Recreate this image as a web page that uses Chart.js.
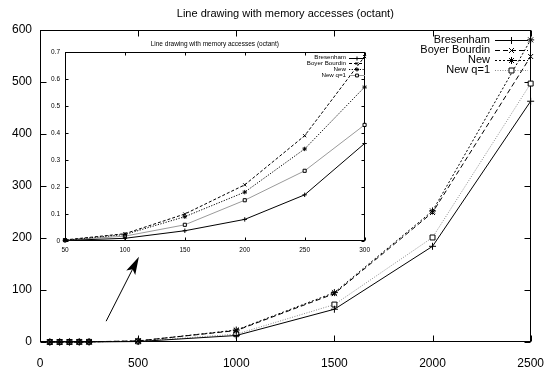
<!DOCTYPE html>
<html><head><meta charset="utf-8">
<script src="https://cdn.jsdelivr.net/npm/chart.js@4/dist/chart.umd.min.js"></script>
<style>
html,body{margin:0;padding:0;background:#fff;}
#wrap{position:relative;width:558px;height:382px;overflow:hidden;}
#main{position:absolute;left:0;top:0;}
#inset{position:absolute;left:40px;top:36px;}
</style></head><body>
<div id="wrap"><canvas id="main" width="558" height="382"></canvas><canvas id="inset" width="335" height="222"></canvas></div>
<script>
// ---------- data ----------
const titleText = 'Line drawing with memory accesses (octant)';
const seriesNames = ['Bresenham', 'Boyer Bourdin', 'New', 'New q=1'];

const mainX = [50, 100, 150, 200, 250, 500, 1000, 1500, 2000, 2500];
const mainBresenham = [0.002, 0.01, 0.038, 0.08, 0.171, 0.9, 12.5, 63, 184, 463];
const mainBoyer     = [0.004, 0.027, 0.1, 0.208, 0.39, 2.2, 22, 93, 249, 549];
const mainNew       = [0.003, 0.024, 0.09, 0.181, 0.341, 1.9, 23, 95, 252, 581];
const mainNewQ1     = [0.003, 0.018, 0.06, 0.151, 0.26, 1.3, 15, 72, 201, 497];

const insetX = [50, 100, 150, 200, 250, 300];
const insetBresenham = [0.002, 0.01, 0.038, 0.08, 0.171, 0.361];
const insetBoyer     = [0.004, 0.027, 0.1, 0.208, 0.39, 0.683];
const insetNew       = [0.003, 0.024, 0.09, 0.181, 0.341, 0.57];
const insetNewQ1     = [0.003, 0.018, 0.06, 0.151, 0.26, 0.43];

const mainXTicks = [0, 500, 1000, 1500, 2000, 2500];
const mainYTicks = [0, 100, 200, 300, 400, 500, 600];
const insetXTicks = [50, 100, 150, 200, 250, 300];
const insetYTicks = [0, 0.1, 0.2, 0.3, 0.4, 0.5, 0.6, 0.7];

// arrow annotation (data coordinates of main chart): tail, head
const arrowTail = [337, 40];
const arrowHead = [504, 164];

// ---------- styles ----------
const FONT = "'Liberation Sans', Arial, Helvetica, sans-serif";
Chart.defaults.font.family = FONT;
Chart.defaults.color = '#000';

const mainStyles = [
  {line: '#000', dash: [], point: 'cross'},
  {line: '#000', dash: [5, 3], point: 'crossRot'},
  {line: '#000', dash: [2, 2], point: 'star'},
  {line: '#8a8a8a', dash: [1, 1.5], point: 'rect'}
];
const insetStyles = [
  {line: '#000', dash: [], point: 'cross'},
  {line: '#000', dash: [3, 2], point: 'crossRot'},
  {line: '#000', dash: [1.2, 1.5], point: 'star'},
  {line: '#9a9a9a', dash: [], point: 'rect'}
];

function makeDatasets(xs, series, styles, radius) {
  return series.map((arr, i) => ({
    label: seriesNames[i],
    data: xs.map((x, j) => ({x: x, y: arr[j]})),
    borderColor: styles[i].line,
    borderDash: styles[i].dash,
    borderWidth: 1,
    pointStyle: styles[i].point,
    pointRadius: radius,
    pointHoverRadius: radius,
    pointBorderColor: '#000',
    pointBackgroundColor: '#fff',
    pointBorderWidth: 1,
    tension: 0,
    fill: false,
    clip: false
  }));
}

// frame with inward ticks on all four sides
function framePlugin(tickLen) {
  return {
    id: 'frame',
    beforeDatasetsDraw(chart) {
      const ctx = chart.ctx, a = chart.chartArea;
      const L = Math.round(a.left) + 0.5, R = Math.round(a.right) - 0.5;
      const T = Math.round(a.top) + 0.5, B = Math.round(a.bottom) - 0.5;
      ctx.save();
      ctx.strokeStyle = '#000';
      ctx.lineWidth = 1;
      ctx.setLineDash([]);
      ctx.strokeRect(L, T, R - L, B - T);
      ctx.beginPath();
      chart.scales.x.ticks.forEach(t => {
        const px = Math.round(chart.scales.x.getPixelForValue(t.value)) + 0.5;
        ctx.moveTo(px, B); ctx.lineTo(px, B - tickLen);
        ctx.moveTo(px, T); ctx.lineTo(px, T + tickLen);
      });
      chart.scales.y.ticks.forEach(t => {
        const py = Math.round(chart.scales.y.getPixelForValue(t.value)) + 0.5;
        ctx.moveTo(L, py); ctx.lineTo(L + tickLen, py);
        ctx.moveTo(R, py); ctx.lineTo(R - tickLen, py);
      });
      ctx.stroke();
      ctx.restore();
    }
  };
}

function titlePlugin(text, size, y) {
  return {
    id: 'ctitle',
    afterDraw(chart) {
      const ctx = chart.ctx, a = chart.chartArea;
      ctx.save();
      ctx.font = size + 'px ' + FONT;
      ctx.fillStyle = '#000';
      ctx.textAlign = 'center';
      ctx.textBaseline = 'middle';
      ctx.fillText(text, (a.left + a.right) / 2, y);
      ctx.restore();
    }
  };
}

function keyPlugin(cfg) {
  return {
    id: 'key',
    afterDatasetsDraw(chart) {
      const ctx = chart.ctx;
      ctx.save();
      chart.data.datasets.forEach((ds, i) => {
        const y = cfg.y0 + i * cfg.dy;
        ctx.font = cfg.size + 'px ' + FONT;
        ctx.fillStyle = '#000';
        ctx.textAlign = 'right';
        ctx.textBaseline = 'middle';
        ctx.fillText(ds.label, cfg.textRight, y);
        ctx.strokeStyle = ds.borderColor;
        ctx.lineWidth = 1;
        ctx.setLineDash(ds.borderDash);
        ctx.beginPath();
        ctx.moveTo(cfg.s0, Math.round(y) + 0.5);
        ctx.lineTo(cfg.s1, Math.round(y) + 0.5);
        ctx.stroke();
        ctx.setLineDash([]);
        ctx.strokeStyle = '#000';
        ctx.fillStyle = '#fff';
        Chart.helpers.drawPoint(ctx, {pointStyle: ds.pointStyle, radius: cfg.r, rotation: 0, borderWidth: 1},
          (cfg.s0 + cfg.s1) / 2, Math.round(y) + 0.5);
      });
      ctx.restore();
    }
  };
}

const arrowPlugin = {
  id: 'arrow',
  afterDraw(chart) {
    const xs = chart.scales.x, ys = chart.scales.y, ctx = chart.ctx;
    const x0 = xs.getPixelForValue(arrowTail[0]), y0 = ys.getPixelForValue(arrowTail[1]);
    const x1 = xs.getPixelForValue(arrowHead[0]), y1 = ys.getPixelForValue(arrowHead[1]);
    const ang = Math.atan2(y1 - y0, x1 - x0);
    const len = 18, hw = 5, back = 14;
    const bx = x1 - back * Math.cos(ang), by = y1 - back * Math.sin(ang);
    ctx.save();
    ctx.strokeStyle = '#000'; ctx.fillStyle = '#000'; ctx.lineWidth = 1;
    ctx.beginPath(); ctx.moveTo(x0, y0); ctx.lineTo(bx, by); ctx.stroke();
    const cx = x1 - len * Math.cos(ang), cy = y1 - len * Math.sin(ang);
    ctx.beginPath();
    ctx.moveTo(x1, y1);
    ctx.lineTo(cx - hw * Math.sin(ang), cy + hw * Math.cos(ang));
    ctx.lineTo(bx, by);
    ctx.lineTo(cx + hw * Math.sin(ang), cy - hw * Math.cos(ang));
    ctx.closePath();
    ctx.fill();
    ctx.restore();
  }
};

function axis(min, max, tickVals, fontSize, pad, fitProp, fitVal, fmt) {
  return {
    type: 'linear', min: min, max: max,
    grid: {display: false, drawTicks: false},
    border: {display: false},
    ticks: {font: {size: fontSize}, color: '#000', padding: pad, autoSkip: false, maxRotation: 0,
            callback: fmt},
    afterBuildTicks: s => { s.ticks = tickVals.map(v => ({value: v})); },
    afterFit: s => { s[fitProp] = fitVal; }
  };
}

// ---------- main chart ----------
new Chart(document.getElementById('main'), {
  type: 'line',
  data: {datasets: makeDatasets(mainX, [mainBresenham, mainBoyer, mainNew, mainNewQ1], mainStyles, 3.5)},
  options: {
    responsive: false, animation: false, devicePixelRatio: 1,
    layout: {padding: {top: 30, right: 17, left: 0, bottom: 0}},
    plugins: {legend: {display: false}, title: {display: false}, tooltip: {enabled: false}},
    scales: {
      x: axis(0, 2500, mainXTicks, 12, 14, 'height', 40, v => String(v)),
      y: axis(0, 600, mainYTicks, 12, 8, 'width', 40, v => String(v))
    }
  },
  plugins: [framePlugin(6), titlePlugin(titleText, 11, 14),
            keyPlugin({y0: 40, dy: 10, size: 11, textRight: 490, s0: 495, s1: 528, r: 3.5}),
            arrowPlugin]
});

// ---------- inset chart ----------
new Chart(document.getElementById('inset'), {
  type: 'line',
  data: {datasets: makeDatasets(insetX, [insetBresenham, insetBoyer, insetNew, insetNewQ1], insetStyles, 2.2)},
  options: {
    responsive: false, animation: false, devicePixelRatio: 1,
    layout: {padding: {top: 16, right: 7, left: 0, bottom: 0}},
    plugins: {legend: {display: false}, title: {display: false}, tooltip: {enabled: false}},
    scales: {
      x: axis(50, 300, insetXTicks, 6.5, 5, 'height', 17, v => String(v)),
      y: axis(0, 0.7, insetYTicks, 6.5, 5, 'width', 25, v => v === 0 ? '0' : v.toFixed(1))
    }
  },
  plugins: [framePlugin(3), titlePlugin(titleText, 6.5, 8),
            keyPlugin({y0: 21.5, dy: 5.8, size: 6.2, textRight: 306, s0: 309, s1: 325, r: 2})]
});
</script>
</body></html>
